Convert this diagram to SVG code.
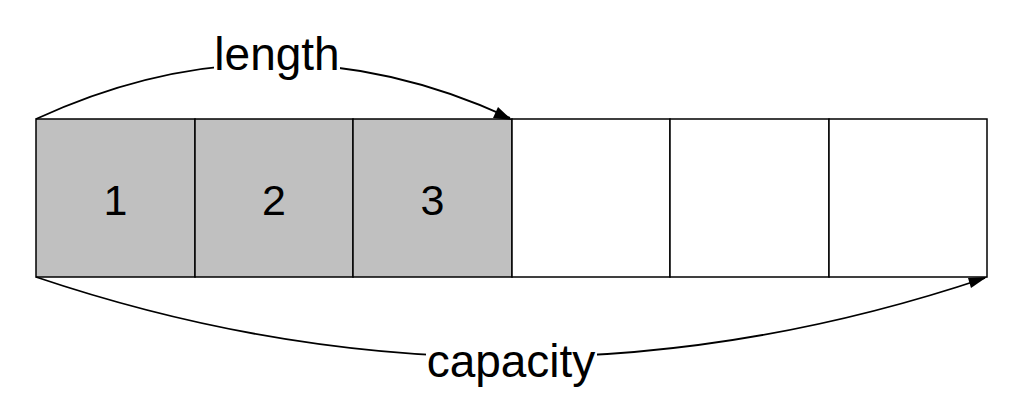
<svg xmlns="http://www.w3.org/2000/svg" width="1024" height="414" viewBox="0 0 1024 414">
<style>
.cell{stroke:#000;stroke-width:1.5}
.full{fill:#c0c0c0}
.empty{fill:#fff}
.num{font-family:"Liberation Sans",Arial,sans-serif;font-size:43px;fill:#000;text-anchor:middle}
.lbl{font-family:"Liberation Sans",Arial,sans-serif;font-size:46px;fill:#000;text-anchor:middle}
.conn{fill:none;stroke:#000;stroke-width:1.8}
</style>
<rect width="1024" height="414" fill="#fff"/>
<g id="cell1"><rect class="cell full" x="36" y="119" width="159" height="158"/><text class="num" x="115.5" y="215">1</text></g>
<g id="cell2"><rect class="cell full" x="195" y="119" width="158" height="158"/><text class="num" x="274" y="215">2</text></g>
<g id="cell3"><rect class="cell full" x="353" y="119" width="159" height="158"/><text class="num" x="432.5" y="215">3</text></g>
<g id="cell4"><rect class="cell empty" x="512" y="119" width="158" height="158"/></g>
<g id="cell5"><rect class="cell empty" x="670" y="119" width="159" height="158"/></g>
<g id="cell6"><rect class="cell empty" x="829" y="119" width="158" height="158"/></g>
<g id="connectors">
<path class="conn" d="M36,119 Q274,9 510,118"/>
<path d="M498,107 L512,120 L493,118 Z" fill="#000"/>
<rect x="214" y="34" width="126" height="52" fill="#fff"/>
<text class="lbl" x="277" y="70">length</text>
<path class="conn" d="M36,277 Q511,437 985,278"/>
<path d="M971,288 L987,277 L968,278 Z" fill="#000"/>
<rect x="426" y="338" width="171" height="54" fill="#fff"/>
<text class="lbl" x="511" y="377">capacity</text>
</g>
</svg>
